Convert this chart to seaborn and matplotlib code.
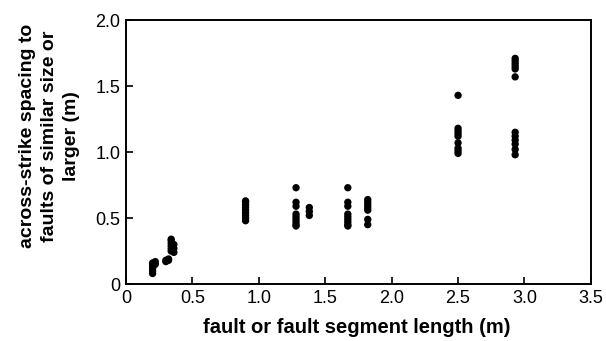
import numpy as np
import pandas as pd
import seaborn as sns
import matplotlib
matplotlib.use("Agg")
import matplotlib.pyplot as plt
from matplotlib.ticker import FuncFormatter

sns.set_theme(style="ticks")
plt.rcParams["font.family"] = ["Liberation Sans", "DejaVu Sans"]

# fault length (m) for each group of measurements
fault_length = [0.20, 0.22, 0.30, 0.32, 0.34, 0.36, 0.90, 1.28, 1.38, 1.67, 1.82, 2.50, 2.93]
# across-strike spacing (m) measured for each group
spacing = [
    [0.08, 0.10, 0.12, 0.14, 0.16],
    [0.15, 0.17],
    [0.17, 0.18],
    [0.18, 0.19],
    [0.25, 0.27, 0.29, 0.31, 0.33, 0.34],
    [0.24, 0.27, 0.30],
    [0.48, 0.50, 0.52, 0.54, 0.56, 0.58, 0.60, 0.62, 0.63],
    [0.73, 0.62, 0.59, 0.53, 0.51, 0.49, 0.47, 0.45, 0.44],
    [0.52, 0.55, 0.58],
    [0.73, 0.62, 0.59, 0.53, 0.51, 0.49, 0.47, 0.45, 0.44],
    [0.64, 0.62, 0.60, 0.58, 0.56, 0.49, 0.45],
    [1.43, 1.18, 1.16, 1.14, 1.12, 1.07, 1.03, 1.01, 0.99],
    [1.71, 1.69, 1.67, 1.65, 1.63, 1.57, 1.15, 1.12, 1.09, 1.06, 1.02, 0.98],
]

rows = [(x, y) for x, ys in zip(fault_length, spacing) for y in ys]
df = pd.DataFrame(rows, columns=["length", "spacing"])

fig = plt.figure(figsize=(6.06, 3.41), dpi=100)
ax = fig.add_axes([0.208, 0.167, 0.767, 0.774])

sns.scatterplot(data=df, x="length", y="spacing", ax=ax, color="black",
                s=28, edgecolor="none", linewidth=0)

ax.set_xlim(0, 3.5)
ax.set_ylim(0, 2.0)
ax.set_xticks(np.arange(0, 3.51, 0.5))
ax.set_yticks(np.arange(0, 2.01, 0.5))
fmt = FuncFormatter(lambda v, p: "0" if abs(v) < 1e-9 else f"{v:.1f}")
ax.xaxis.set_major_formatter(fmt)
ax.yaxis.set_major_formatter(fmt)
ax.tick_params(direction="in", length=5, width=1.2, labelsize=13, colors="black",
               labelcolor="black", top=False, right=False, pad=4)
for s in ax.spines.values():
    s.set_linewidth(1.4)
    s.set_color("black")

ax.set_xlabel("fault or fault segment length (m)", fontsize=14.5, fontweight="bold",
              color="black")
ax.set_ylabel("across-strike spacing to\nfaults of similar size or\nlarger (m)",
              fontsize=14, fontweight="bold", color="black", linespacing=1.35)
ax.xaxis.set_label_coords(0.497, -0.128)
ax.yaxis.set_label_coords(-0.10, 0.56)

fig.savefig("out.png", dpi=100)
